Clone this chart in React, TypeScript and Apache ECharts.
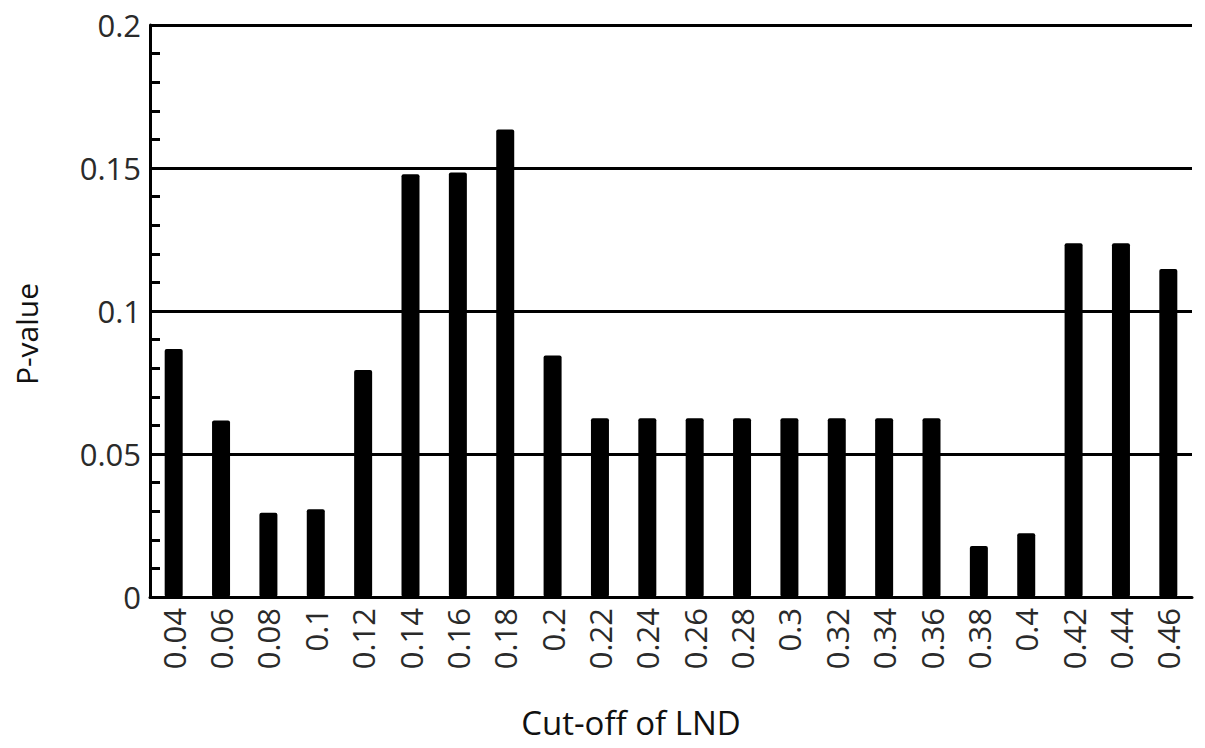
import React, { useEffect, useRef } from "react";
import * as echarts from "echarts";

const categories = ["0.04","0.06","0.08","0.1","0.12","0.14","0.16","0.18","0.2","0.22","0.24","0.26","0.28","0.3","0.32","0.34","0.36","0.38","0.4","0.42","0.44","0.46"];
const pValues = [0.0867,0.0617,0.0295,0.0307,0.0794,0.1478,0.1484,0.1635,0.0844,0.0625,0.0625,0.0625,0.0625,0.0625,0.0625,0.0625,0.0625,0.0178,0.0223,0.1237,0.1237,0.1147];
const yTicks = [0, 0.05, 0.1, 0.15, 0.2];
const xTitle = "Cut-off of LND";
const yTitle = "P-value";

const FONT = "'Open Sans', 'Segoe UI', sans-serif";

export default function App() {
  const ref = useRef<HTMLDivElement>(null);
  useEffect(() => {
    if (!ref.current) return;
    const chart = echarts.init(ref.current, null, { renderer: "svg" });
    chart.setOption({
      animation: false,
      backgroundColor: "#ffffff",
      grid: { left: 150, right: 13, top: 25, bottom: 151, containLabel: false },
      xAxis: {
        type: "category",
        data: categories,
        axisLine: { show: true, lineStyle: { color: "#000", width: 3 } },
        axisTick: { show: false },
        axisLabel: {
          rotate: 90,
          margin: 11,
          fontSize: 31,
          fontFamily: FONT,
          color: "#2a2a2a",
          interval: 0,
        },
      },
      yAxis: {
        type: "value",
        min: yTicks[0],
        max: yTicks[yTicks.length - 1],
        interval: 0.05,
        axisLine: { show: true, lineStyle: { color: "#000", width: 3 } },
        axisTick: { show: true, inside: true, length: 10, lineStyle: { color: "#000", width: 3 } },
        minorTick: { show: true, splitNumber: 5, length: 10, lineStyle: { color: "#000", width: 3 } },
        splitLine: { show: true, lineStyle: { color: "#000", width: 3 } },
        axisLabel: {
          margin: 9,
          fontSize: 31,
          fontFamily: FONT,
          color: "#2a2a2a",
          formatter: (v: number) => String(Math.round(v * 100) / 100),
        },
      },
      graphic: [
        {
          type: "text",
          x: 26,
          y: 334,
          rotation: Math.PI / 2,
          style: {
            text: yTitle,
            fontSize: 30,
            fontFamily: FONT,
            fill: "#111",
            textAlign: "center",
            textVerticalAlign: "middle",
          },
        },
        {
          type: "text",
          x: 631,
          y: 722,
          style: {
            text: xTitle,
            fontSize: 33,
            fontFamily: FONT,
            fill: "#111",
            textAlign: "center",
            textVerticalAlign: "middle",
          },
        },
      ],
      series: [
        {
          type: "bar",
          data: pValues,
          barWidth: 18,
          itemStyle: { color: "#000", borderRadius: 2 },
        },
      ],
    });
    return () => chart.dispose();
  }, []);
  return (
    <div
      ref={ref}
      style={{ position: "fixed", left: 0, top: 0, width: 1205, height: 748 }}
    />
  );
}
